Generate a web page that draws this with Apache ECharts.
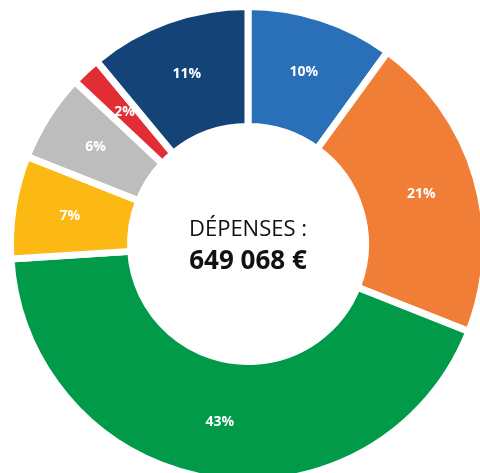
<!DOCTYPE html>
<html><head><meta charset="utf-8">
<script src="https://cdn.jsdelivr.net/npm/echarts@6/dist/echarts.min.js"></script>
<style>html,body{margin:0;padding:0;background:#fff}#c{width:480px;height:473px}</style>
</head><body><div id="c"></div>
<script>
const categories = ['A', 'B', 'C', 'D', 'E', 'F', 'G'];
const values = [10, 21, 43, 7, 6, 2, 11];
const colors = ['#2970B8', '#F07E36', '#009A49', '#FDB913', '#BDBDBD', '#E32D35', '#134377'];
const centerTitle = 'DÉPENSES :';
const centerValue = '649 068 €';

const chart = echarts.init(document.getElementById('c'));
chart.setOption({
  animation: false,
  graphic: [
    {type: 'text', x: 248, y: 230, style: {text: centerTitle, font: '22px "Open Sans", sans-serif', fill: '#111', align: 'center', verticalAlign: 'middle'}},
    {type: 'text', x: 248, y: 262, style: {text: centerValue, font: 'bold 26px "Open Sans", sans-serif', fill: '#111', align: 'center', verticalAlign: 'middle'}}
  ],
  series: [{
    type: 'pie',
    center: [248, 244],
    radius: [117.5, 237.5],
    startAngle: 90,
    clockwise: true,
    itemStyle: {borderColor: '#fff', borderWidth: 7},
    label: {position: 'inside', formatter: p => p.value + '%', color: '#fff', fontWeight: 'bold', fontSize: 14, fontFamily: '"Open Sans", sans-serif'},
    labelLine: {show: false},
    emphasis: {disabled: true},
    data: categories.map((c, i) => ({name: c, value: values[i], itemStyle: {color: colors[i]}}))
  }]
});
</script></body></html>
